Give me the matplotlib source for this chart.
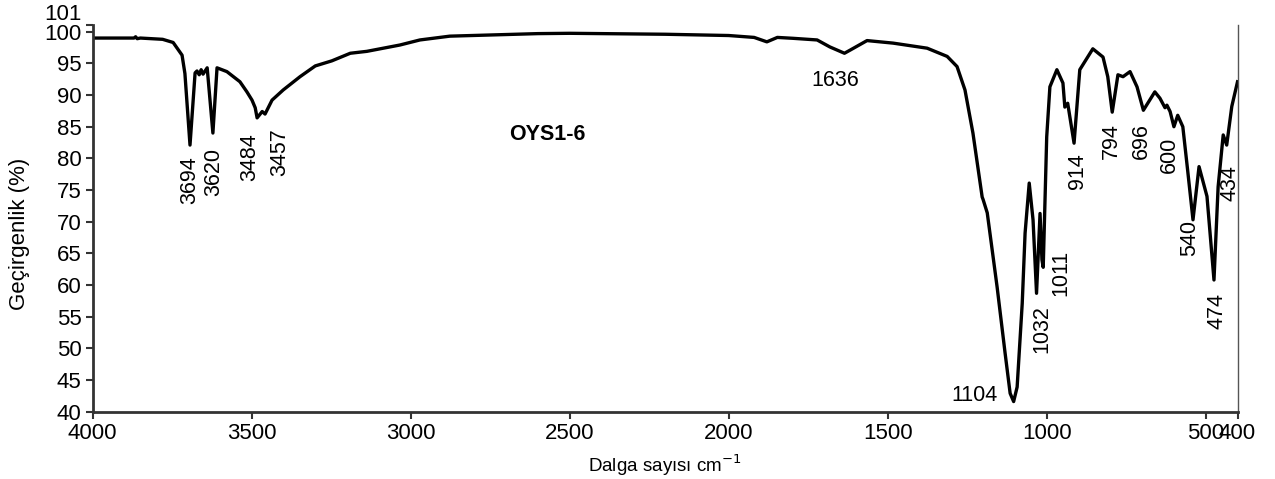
"""IR spectrum of OYS1-6 (transmittance vs wavenumber)."""

import matplotlib
matplotlib.use("Agg")
import matplotlib.pyplot as plt

plt.rcParams["font.family"] = ["Liberation Sans", "DejaVu Sans"]

# spectrum
wavenumber = [
    4000, 3870, 3865, 3860, 3850, 3780, 3747, 3719, 3710, 3694,
    3678, 3672, 3665, 3659, 3653, 3640, 3622, 3609, 3578, 3537,
    3515, 3499, 3489, 3483, 3467, 3458, 3436, 3401, 3348, 3300,
    3248, 3190, 3138, 3034, 2971, 2877, 2600, 2500, 2200, 2000,
    1920, 1880, 1847, 1798, 1722, 1682, 1636, 1618, 1565, 1483,
    1376, 1313, 1282, 1257, 1232, 1203, 1200, 1187, 1156, 1131,
    1115, 1104, 1093, 1077, 1068, 1055, 1043, 1032, 1021, 1015,
    1011, 1000, 990, 968, 949, 943, 934, 914, 896, 855,
    823, 808, 794, 776, 760, 738, 716, 696, 660, 644,
    628, 622, 612, 600, 588, 572, 557, 540, 521, 496,
    474, 461, 445, 434, 418, 400,
]
transmittance = [
    99.0, 99.0, 99.2, 98.9, 99.0, 98.8, 98.3, 96.3, 93.4, 82.1,
    93.5, 93.8, 93.2, 94.0, 93.3, 94.3, 84.0, 94.3, 93.7, 92.1,
    90.5, 89.2, 88.0, 86.4, 87.4, 87.0, 89.2, 90.8, 92.9, 94.6,
    95.4, 96.6, 96.9, 97.9, 98.7, 99.3, 99.7, 99.75, 99.6, 99.4,
    99.1, 98.4, 99.1, 98.96, 98.7, 97.6, 96.6, 97.1, 98.6, 98.2,
    97.4, 96.1, 94.5, 90.8, 84.0, 73.9, 73.5, 71.4, 59.7, 49.3,
    42.9, 41.6, 43.9, 57.1, 68.2, 76.1, 70.3, 58.7, 71.3, 64.0,
    62.8, 83.4, 91.3, 94.0, 91.9, 88.1, 88.7, 82.4, 94.0, 97.3,
    96.0, 92.9, 87.3, 93.2, 92.9, 93.7, 91.3, 87.6, 90.5, 89.5,
    88.0, 88.4, 87.4, 85.0, 86.8, 85.0, 78.2, 70.3, 78.7, 74.0,
    60.8, 75.5, 83.7, 82.1, 88.2, 92.1,
]

# peak labels: text, x, y (top of rotated text)
peak_labels = ["3694", "3620", "3484", "3457", "1032", "1011", "914",
               "794", "696", "600", "540", "474", "434"]
peak_x = [3694, 3618, 3505, 3411, 1016, 957, 904, 797, 703, 615, 549, 464, 423]
peak_y = [80.3, 81.6, 84.0, 84.8, 56.8, 65.5, 80.8, 85.5, 85.5, 83.4, 70.3, 58.7, 78.9]

x_ticks = [4000, 3500, 3000, 2500, 2000, 1500, 1000, 500, 400]
y_ticks = [40, 45, 50, 55, 60, 65, 70, 75, 80, 85, 90, 95, 100, 101]

fig = plt.figure(figsize=(12.75, 4.79), dpi=100)
ax = fig.add_axes([0.0727, 0.1405, 0.8979, 0.8065])
ax.plot(wavenumber, transmittance, color="black", lw=2.4, solid_joinstyle="round")

ax.set_xlim(4000, 400)
ax.set_ylim(40, 101)
ax.set_xticks(x_ticks)
ax.set_yticks(y_ticks)
ax.tick_params(labelsize=16, length=5, width=1.5, color="#333333", pad=3)
# the 101 label sits above its tick so it clears the 100 label
ax.get_yticklabels()[-1].set_verticalalignment("bottom")

for side in ["left", "bottom"]:
    ax.spines[side].set_linewidth(2)
    ax.spines[side].set_color("#333333")
ax.spines["top"].set_visible(False)
ax.spines["right"].set_linewidth(1)
ax.spines["right"].set_color("#555555")

for label, x, y in zip(peak_labels, peak_x, peak_y):
    ax.text(x, y, label, rotation=90, ha="center", va="top", fontsize=15.5)

ax.text(1155, 42.6, "1104", ha="right", va="center", fontsize=15.5)
ax.text(1665, 92.3, "1636", ha="center", va="center", fontsize=15.5)
ax.text(2571, 83.7, "OYS1-6", ha="center", va="center", fontsize=15.5,
        fontweight="bold")

ax.set_xlabel("Dalga sayısı cm$^{-1}$", fontsize=13.5, labelpad=6)
ax.set_ylabel("Geçirgenlik (%)", fontsize=16, va="center")
ax.yaxis.set_label_coords(-0.064, 0.46)

fig.savefig("out.png", dpi=100)
